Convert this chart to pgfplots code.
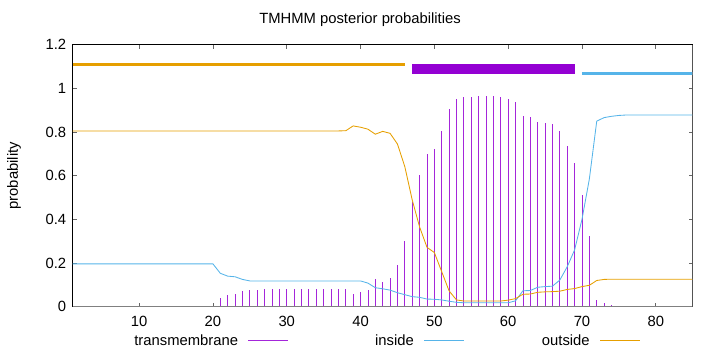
\documentclass[border=0pt]{standalone}
\usepackage{pgfplots}
\pgfplotsset{compat=1.18}
\usepackage{fontspec}
\setmainfont{Liberation Sans}
\definecolor{tmcol}{HTML}{9400D3}
\definecolor{incol}{HTML}{56B4E9}
\definecolor{outcol}{HTML}{E69F00}
\pgfplotsset{lleg/.style={legend image code/.code={\draw[##1] (0pt,0pt) -- (40pt,0pt); \path (55pt,0pt);}}}
\begin{document}
\begin{tikzpicture}[font=\fontsize{14.8}{17}\selectfont]
\useasboundingbox (-72.7pt,-45.3pt) rectangle (647.3pt,306.7pt);
\begin{axis}[
  at={(0pt,0pt)}, anchor=south west,
  scale only axis, width=620pt, height=262pt,
  xmin=1, xmax=85, ymin=0, ymax=1.2,
  xtick={10,20,30,40,50,60,70,80},
  ytick={0,0.2,0.4,0.6,0.8,1,1.2},
  tick align=inside, major tick length=4pt,
  tick style={black!60, line width=0.8pt},
  axis line style={black, line width=0.8pt},
  /pgf/number format/assume math mode=true,
  xticklabel style={yshift=-6pt},
  yticklabel style={xshift=-3pt},
  ylabel={probability},
  every axis y label/.style={at={(axis description cs:-0.0947,0.5)}, rotate=90, anchor=center},
  title={TMHMM posterior probabilities},
  every axis title/.style={at={(axis description cs:0.4634,1)}, anchor=center, yshift=24.7pt},
  legend columns=3, legend plot pos=right,
  legend style={draw=none, fill=none, inner sep=0pt, outer sep=0pt,
    nodes={inner sep=0pt, outer sep=0pt}, column sep=0pt, row sep=0pt,
    at={(axis description cs:0.0892,-0.1298)}, anchor=west},
]
\addplot[tmcol!85!white, line width=0.85pt, ycomb, lleg] coordinates {
(21,0.040)(22,0.054)(23,0.058)(24,0.070)(25,0.078)(26,0.078)(27,0.081)(28,0.081)
(29,0.081)(30,0.081)(31,0.081)(32,0.081)(33,0.081)(34,0.081)(35,0.081)(36,0.081)
(37,0.081)(38,0.081)(39,0.058)(40,0.066)(41,0.076)(42,0.125)(43,0.113)(44,0.133)
(45,0.191)(46,0.300)(47,0.480)(48,0.603)(49,0.700)(50,0.721)(51,0.803)(52,0.906)
(53,0.950)(54,0.959)(55,0.962)(56,0.964)(57,0.964)(58,0.964)(59,0.961)(60,0.951)
(61,0.938)(62,0.875)(63,0.870)(64,0.848)(65,0.843)(66,0.838)(67,0.805)(68,0.736)
(69,0.657)(70,0.512)(71,0.324)(72,0.031)(73,0.015)(74,0.008)};
\addlegendentry{\makebox[120pt][r]{transmembrane\hspace{10pt}}}
\addplot[incol, line width=0.85pt, lleg] coordinates {
(1,0.196)(20,0.196)(21,0.153)(22,0.140)(23,0.137)(24,0.125)(25,0.118)(40,0.118)
(41,0.108)(42,0.087)(43,0.082)(44,0.076)(45,0.064)(46,0.055)(47,0.046)(48,0.043)
(49,0.035)(50,0.034)(51,0.031)(52,0.025)(53,0.020)(54,0.018)(60,0.018)(61,0.027)
(62,0.073)(63,0.074)(64,0.089)(65,0.092)(66,0.094)(67,0.122)(68,0.183)(69,0.260)
(70,0.400)(71,0.585)(72,0.850)(73,0.866)(74,0.872)(75,0.876)(76,0.878)(85,0.878)};
\addlegendentry{\makebox[120pt][r]{inside\hspace{10pt}}}
\addplot[outcol, line width=0.85pt, lleg] coordinates {
(1,0.805)(37,0.805)(38,0.806)(39,0.828)(40,0.822)(41,0.813)(42,0.790)(43,0.803)
(44,0.794)(45,0.745)(46,0.641)(47,0.489)(48,0.365)(49,0.272)(50,0.248)(51,0.160)
(52,0.072)(53,0.031)(54,0.026)(59,0.026)(60,0.030)(61,0.037)(62,0.057)(63,0.058)
(64,0.066)(65,0.068)(66,0.069)(67,0.071)(68,0.079)(69,0.083)(70,0.092)(71,0.098)
(72,0.120)(73,0.125)(74,0.126)(85,0.126)};
\addlegendentry{\makebox[120pt][r]{outside\hspace{10pt}}}
\addplot[outcol, line width=3pt, forget plot] coordinates {(1,1.11)(46,1.11)};
\addplot[tmcol, line width=10pt, forget plot] coordinates {(47,1.09)(69,1.09)};
\addplot[incol, line width=3pt, forget plot] coordinates {(70,1.07)(85,1.07)};
\draw[black!50, line width=2pt] (rel axis cs:0,0) -- (rel axis cs:1,0) -- (rel axis cs:1,1);
\end{axis}
\end{tikzpicture}
\end{document}
